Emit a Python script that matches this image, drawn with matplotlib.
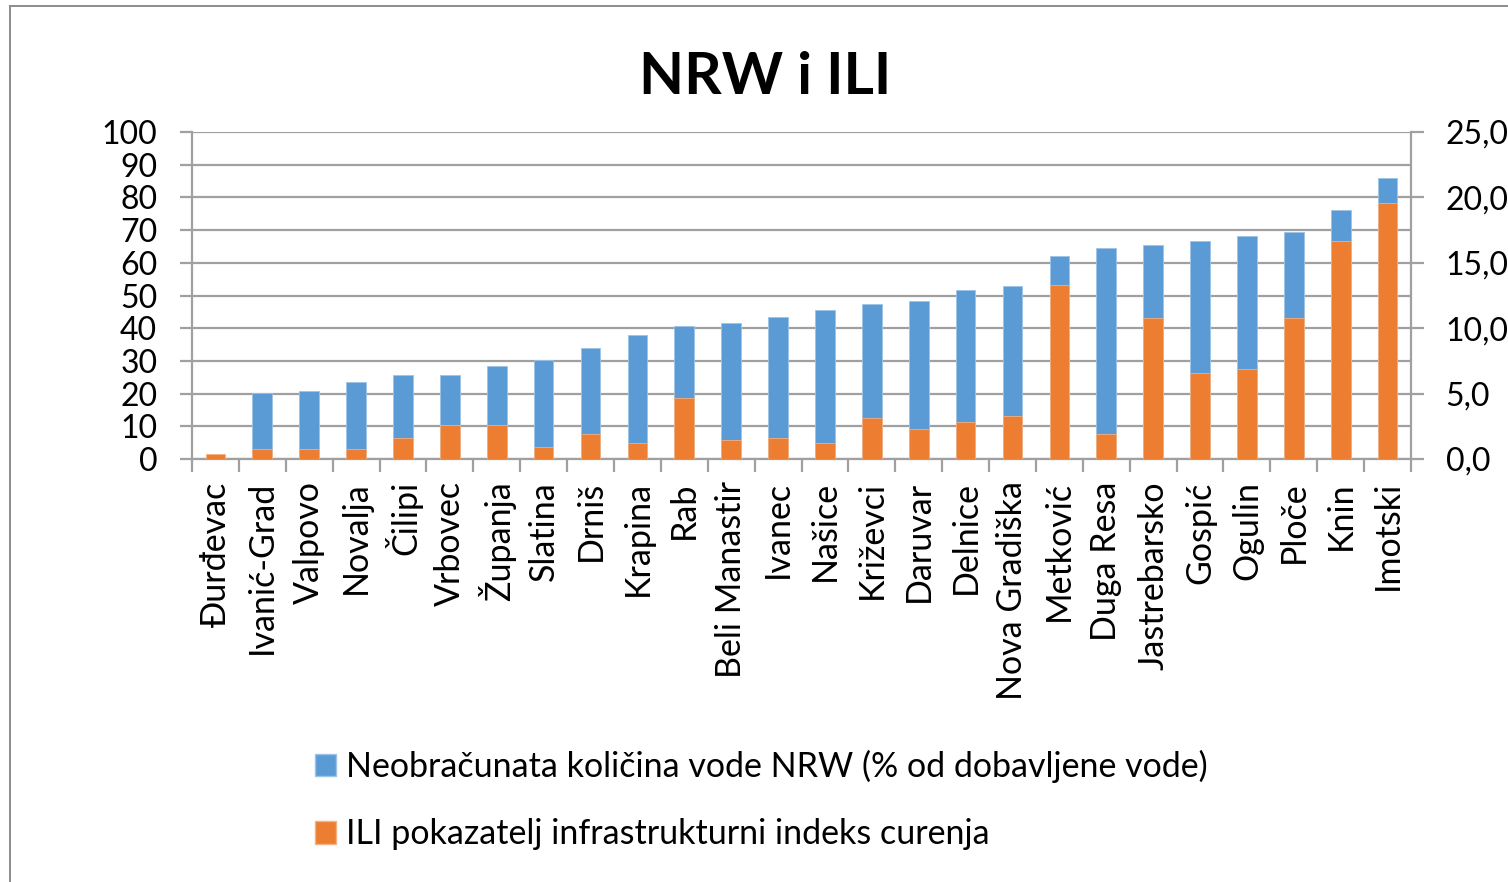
import numpy as np
import matplotlib
matplotlib.use('Agg')
import matplotlib.pyplot as plt
from matplotlib.patches import Patch
from matplotlib.lines import Line2D

plt.rcParams['font.family'] = ['Lato', 'DejaVu Sans']

# podaci procitani sa slike
gradovi = ['Đurđevac', 'Ivanić-Grad', 'Valpovo', 'Novalja', 'Čilipi', 'Vrbovec',
           'Županja', 'Slatina', 'Drniš', 'Krapina', 'Rab', 'Beli Manastir',
           'Ivanec', 'Našice', 'Križevci', 'Daruvar', 'Delnice', 'Nova Gradiška',
           'Metković', 'Duga Resa', 'Jastrebarsko', 'Gospić', 'Ogulin', 'Ploče',
           'Knin', 'Imotski']
nrw = [0, 20.1, 20.7, 23.5, 25.7, 25.7, 28.5, 30.2, 34.0, 37.9, 40.6, 41.7,
       43.4, 45.6, 47.3, 48.4, 51.6, 52.8, 62.1, 64.4, 65.5, 66.6, 68.3, 69.3,
       76.0, 85.9]
ili = [0.36, 0.77, 0.77, 0.77, 1.6, 2.58, 2.58, 0.89, 1.89, 1.2, 4.64, 1.45,
       1.6, 1.2, 3.11, 2.3, 2.86, 3.27, 13.3, 1.89, 10.8, 6.56, 6.86, 10.8,
       16.7, 19.6]
lijeve_oznake = [0, 10, 20, 30, 40, 50, 60, 70, 80, 90, 100]
desne_oznake = [0, 5, 10, 15, 20, 25]

plava = '#5B9BD5'
narancasta = '#ED7D31'
siva = '#A0A0A0'
fs_osi = 23
fs = 24.5

fig = plt.figure(figsize=(15.08, 8.82), dpi=100)
W, H = 1508, 882
ax = fig.add_axes([192 / W, 1 - 459 / H, (1411 - 192) / W, (459 - 132) / H])
ax2 = ax.twinx()

x = np.arange(len(gradovi))
sirina = 0.42
ax.bar(x, nrw, sirina, color=plava, edgecolor='#9DC3E6', linewidth=0.6, zorder=3)
ax2.bar(x, ili, sirina, color=narancasta, edgecolor='#F4B183', linewidth=0.6, zorder=3)

ax.set_xlim(-0.5, len(gradovi) - 0.5)
ax.set_ylim(0, 100)
ax2.set_ylim(0, 25)

ax.set_yticks(lijeve_oznake)
ax.set_yticklabels([str(v) for v in lijeve_oznake])
ax2.set_yticks(desne_oznake)
ax2.set_yticklabels([f'{v:.1f}'.replace('.', ',') for v in desne_oznake])

ax.yaxis.grid(True, color=siva, linewidth=1.6, zorder=0)
ax.set_axisbelow(True)

ax.set_xticks(x)
ax.set_xticklabels(gradovi, rotation=90, fontsize=fs)
ax.set_xticks(np.arange(len(gradovi) + 1) - 0.5, minor=True)
ax.tick_params(axis='x', which='major', length=0, pad=16)
ax.tick_params(axis='x', which='minor', length=9, width=1.6, color=siva)
ax.tick_params(axis='y', length=9, width=1.6, color=siva, labelsize=fs_osi, pad=16)
ax2.tick_params(axis='y', length=9, width=1.6, color=siva, labelsize=fs_osi, pad=16)

for a in (ax, ax2):
    for s in a.spines.values():
        s.set_visible(False)
ax.spines['left'].set_visible(True)
ax.spines['left'].set_color(siva)
ax.spines['left'].set_linewidth(1.6)
ax.spines['bottom'].set_visible(True)
ax.spines['bottom'].set_color(siva)
ax.spines['bottom'].set_linewidth(1.6)
ax2.spines['right'].set_visible(True)
ax2.spines['right'].set_color(siva)
ax2.spines['right'].set_linewidth(1.6)

fig.text(765 / W, 1 - 77 / H, 'NRW i ILI', fontsize=42, fontweight='bold',
         ha='center', va='center')

# okvir grafikona
fig.add_artist(Line2D([10 / W, 10 / W], [0, 1 - 6 / H], color='#8C8C8C', linewidth=1.4))
fig.add_artist(Line2D([10 / W, 1], [1 - 6 / H, 1 - 6 / H], color='#8C8C8C', linewidth=1.4))

ruke = [Patch(facecolor=plava, edgecolor='#9DC3E6'),
        Patch(facecolor=narancasta, edgecolor='#F4B183')]
fig.legend(ruke, ['Neobračunata količina vode NRW (% od dobavljene vode)',
                  'ILI pokazatelj infrastrukturni indeks curenja'],
           loc='upper left', bbox_to_anchor=(301 / W, 1 - 736 / H), frameon=False,
           fontsize=fs, handlelength=0.62, handleheight=0.62, handletextpad=0.3,
           labelspacing=1.05, borderaxespad=0)

fig.savefig('out.png', dpi=100, facecolor='white')
